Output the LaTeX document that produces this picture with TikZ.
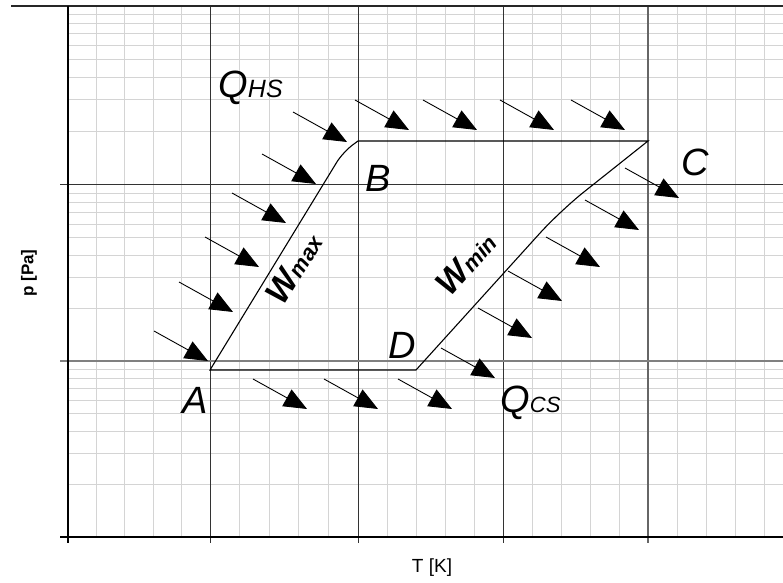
\documentclass[tikz,border=0pt]{standalone}
\usepackage{fontspec}
\setmainfont{Liberation Sans}
\usetikzlibrary{arrows.meta}
\begin{document}
\begin{tikzpicture}[x=0.5pt,y=-0.5pt,
  minorline/.style={draw=black!17,line width=0.5pt},
  majorline/.style={draw=black!80,line width=0.5pt},
  flow/.style={line width=0.45pt,-{Triangle[length=11.5pt,width=9.5pt]}},
  corner/.style={inner sep=0pt,font=\fontsize{19}{19}\selectfont\itshape},
  work/.style={inner sep=0pt,font=\fontsize{17}{17}\selectfont\bfseries\itshape}]
\useasboundingbox (0,0) rectangle (783,583);
% grid
\foreach \a/\b in {68/210, 210/358, 358/503, 503/648, 648/793}
  \foreach \k in {1,...,4} \draw[minorline] ({\a+\k*(\b-\a)/5},6) -- ({\a+\k*(\b-\a)/5},537);
\foreach \a/\b in {537/361, 361/185, 185/6}
  \foreach \k in {2,...,9} \draw[minorline] (68,{\a-log10(\k)*(\a-\b)}) -- (783,{\a-log10(\k)*(\a-\b)});
\foreach \x in {210, 358, 503} \draw[majorline] (\x,6) -- (\x,543);
\draw[black!60,line width=0.6pt] (648,6) -- (648,543);
\draw[majorline] (60,185) -- (783,185);
\draw[black!50,line width=0.8pt] (60,361) -- (783,361);
\draw[black!85,line width=0.7pt] (11,6) -- (783,6);
\draw[line width=0.7pt] (68,6) -- (68,543);
\draw[line width=0.8pt] (60,537) -- (783,537);
% cycle
\coordinate (A) at (210,370);
\coordinate (AB) at (343,152);
\coordinate (B) at (358,141);
\coordinate (C) at (648,141);
\coordinate (CD) at (560,211);
\coordinate (D) at (416,370);
\draw[line width=0.55pt] (A) [rounded corners=6pt] -- (AB) [sharp corners] -- (B) -- (C)
  [rounded corners=15pt] -- (CD) [sharp corners] -- (D) -- cycle;
\node[corner] (labA) at (195,400) {A};
\node[corner] (labB) at (378,178) {B};
\node[corner] (labC) at (695,162) {C};
\node[corner] (labD) at (402,345) {D};
\node[corner,anchor=base west] (qhs) at (218,98) {Q\fontsize{12.5}{12.5}\selectfont HS};
\node[corner,anchor=base west] (qcs) at (500,412) {Q\fontsize{11}{11}\selectfont CS};
\node[work,rotate=58] (wmax) at (294,268) {W\fontsize{11}{11}\selectfont max};
\node[work,rotate=48] (wmin) at (466,263) {W\fontsize{11}{11}\selectfont min};
% heat arrows
\foreach \p in {(154,331),(179,282),(205,237),(232,193),(262,154),(293,112),
  (355,100),(423,100),(500,100),(571,100),
  (625,168),(585,200),(546,237),(508,271),(478,308),(441,348),
  (253,379),(324,379),(398,379)}
  \draw[flow] \p -- ++(54,30);
% axes
\node[font=\fontsize{8.5}{8.5}\selectfont\bfseries,rotate=90] (ylab) at (29,273) {p [Pa]};
\node[font=\fontsize{9.5}{9.5}\selectfont] (xlab) at (432,568) {T [K]};
\end{tikzpicture}
\end{document}
